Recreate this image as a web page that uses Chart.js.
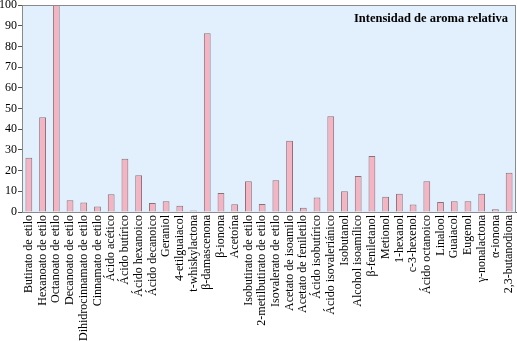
<!DOCTYPE html>
<html>
<head>
<meta charset="utf-8">
<script src="https://cdn.jsdelivr.net/npm/chart.js@4"></script>
<style>
  html, body { margin: 0; padding: 0; background: #ffffff; }
  #wrap { width: 517px; height: 341px; }
</style>
</head>
<body>
<div id="wrap"><canvas id="aromaChart" width="517" height="341"></canvas></div>
<script>
const compounds = [
  'Butirato de etilo', 'Hexanoato de etilo', 'Octanoato de etilo', 'Decanoato de etilo',
  'Dihidrocinnamato de etilo', 'Cinnamato de etilo', 'Ácido acético', 'Ácido butírico',
  'Ácido hexanoico', 'Ácido decanoico', 'Geraniol', '4-etilguaiacol', 't-whiskylactona',
  'β-damascenona', 'β-ionona', 'Acetoína', 'Isobutirato de etilo', '2-metilbutirato de etilo',
  'Isovalerato de etilo', 'Acetato de isoamilo', 'Acetato de feniletilo', 'Ácido isobutírico',
  'Ácido isovaleriánico', 'Isobutanol', 'Alcohol isoamílico', 'β-feniletanol', 'Metionol',
  '1-hexanol', 'c-3-hexenol', 'Ácido octanoico', 'Linalool', 'Guaiacol', 'Eugenol',
  'γ-nonalactona', 'α-ionona', '2,3-butanodiona'
];
const intensity = [
  26.2, 45.8, 100, 5.7, 4.6, 2.7, 8.6, 25.7, 17.7, 4.3, 5.2, 3.0, 0.7,
  86.4, 9.2, 3.8, 14.8, 3.9, 15.3, 34.4, 2.0, 7.0, 46.3, 10.0, 17.4, 27.0, 7.4,
  8.8, 3.6, 14.8, 4.8, 5.2, 5.2, 8.8, 1.3, 19.0
];
const yTicks = [0, 10, 20, 30, 40, 50, 60, 70, 80, 90, 100];
const chartTitle = 'Intensidad de aroma relativa';

const serif = "'Liberation Serif', 'DejaVu Serif', serif";

const plotBackground = {
  id: 'plotBackground',
  beforeDraw(chart) {
    const { ctx, chartArea: a } = chart;
    ctx.save();
    ctx.fillStyle = '#e1f0fc';
    ctx.fillRect(a.left, a.top, a.right - a.left, a.bottom - a.top);
    ctx.restore();
  },
  afterDatasetsDraw(chart) {
    const { ctx, chartArea: a } = chart;
    ctx.save();
    ctx.strokeStyle = '#8a8a8a';
    ctx.lineWidth = 1;
    ctx.strokeRect(a.left + 0.5, a.top + 0.5, a.right - a.left - 1, a.bottom - a.top);
    ctx.font = 'bold 12.5px ' + serif;
    ctx.fillStyle = '#000000';
    ctx.textAlign = 'right';
    ctx.textBaseline = 'middle';
    ctx.fillText(chartTitle, a.right - 8, a.top + 14);
    ctx.restore();
  }
};

new Chart(document.getElementById('aromaChart'), {
  type: 'bar',
  data: {
    labels: compounds,
    datasets: [{
      data: intensity,
      backgroundColor: '#f4b4c1',
      borderColor: '#8c7079',
      borderWidth: 1,
      borderSkipped: 'bottom',
      barPercentage: 0.55,
      categoryPercentage: 0.9
    }]
  },
  options: {
    responsive: false,
    animation: false,
    layout: { padding: { left: 0, right: 1, top: 0, bottom: 0 } },
    plugins: { legend: { display: false }, tooltip: { enabled: false } },
    scales: {
      x: {
        grid: { display: false, drawTicks: false },
        border: { color: '#555555' },
        ticks: {
          autoSkip: false,
          minRotation: 90,
          maxRotation: 90,
          padding: 3,
          color: '#000000',
          font: { family: serif, size: 12, lineHeight: 1 }
        },
        afterFit(scale) {
          scale.height = 129;
          scale.paddingLeft = 0;
          scale.paddingRight = 0;
        }
      },
      y: {
        min: 0,
        max: 100,
        afterBuildTicks(scale) { scale.ticks = yTicks.map((v) => ({ value: v })); },
        grid: { drawOnChartArea: false, tickLength: 4, color: '#555555' },
        border: { color: '#555555' },
        ticks: {
          padding: 1,
          color: '#000000',
          font: { family: serif, size: 12, lineHeight: 1 }
        },
        afterFit(scale) {
          scale.width = 22;
          scale.paddingTop = 5;
          scale.paddingBottom = 0;
        }
      }
    }
  },
  plugins: [plotBackground]
});
</script>
</body>
</html>
